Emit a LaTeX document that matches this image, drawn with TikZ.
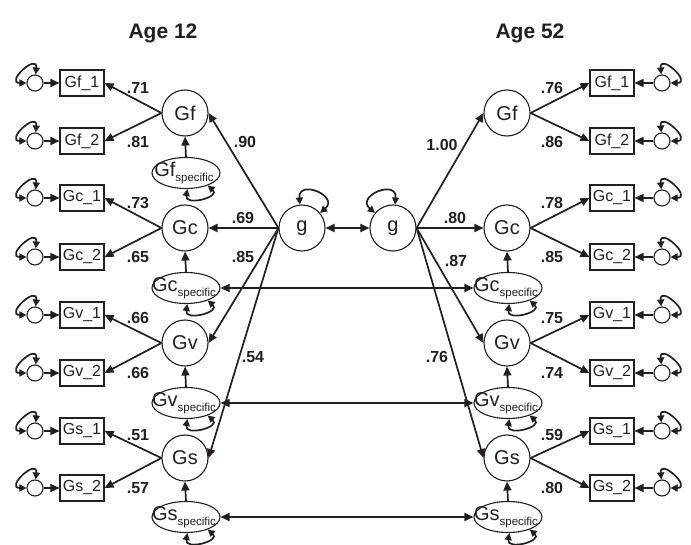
\documentclass[tikz,border=0pt]{standalone}
\usepackage{fontspec}
\setmainfont{Liberation Sans}
\usetikzlibrary{arrows.meta,shapes.geometric}
\definecolor{ink}{HTML}{231F20}
\begin{document}
\begin{tikzpicture}[x=1pt,y=-1pt,
  lat/.style={circle,draw=ink,line width=1.1pt,minimum size=46pt,inner sep=0pt,font=\fontsize{20}{20}\selectfont,text=ink},
  ind/.style={rectangle,draw=ink,line width=1.1pt,minimum width=44pt,minimum height=26pt,inner sep=0pt,font=\fontsize{16}{16}\selectfont,text=ink},
  res/.style={circle,draw=ink,line width=1.1pt,minimum size=16pt,inner sep=0pt},
  spec/.style={ellipse,draw=ink,line width=1.1pt,minimum width=68pt,minimum height=31pt,inner sep=0pt},
  spectxt/.style={font=\fontsize{20}{20}\selectfont,text=ink,inner sep=0pt},
  coef/.style={font=\bfseries\fontsize{16}{16}\selectfont,text=ink,inner sep=0pt},
  title/.style={font=\bfseries\fontsize{21}{21}\selectfont,text=ink,inner sep=0pt},
  arr/.style={line width=1.7pt,draw=ink,-{Triangle[length=9pt,width=8pt]}},
  darr/.style={line width=1.7pt,draw=ink,{Triangle[length=9pt,width=8pt]}-{Triangle[length=9pt,width=8pt]}},
  loopa/.style={line width=1.7pt,draw=ink,{Triangle[length=7pt,width=7pt]}-{Triangle[length=7pt,width=7pt]}},
]
\useasboundingbox (0,0) rectangle (691,545);
\fill[white] (0,0) rectangle (691,545);

% titles
\node[title] (t12) at (163,33) {Age 12};
\node[title] (t52) at (530,33) {Age 52};

% g factors
\node[lat] (gL) at (302,228) {g};
\node[lat] (gR) at (393,228) {g};
\draw[loopa] (gL.95) .. controls +(95:26pt) and +(40:26pt) .. (gL.40);
\draw[loopa] (gR.140) .. controls +(140:26pt) and +(85:26pt) .. (gR.85);
\draw[darr] (gL.east) -- (gR.west);

% ---------- left side ----------
\foreach \n/\y/\ya/\yb in {Gf/113/83/141, Gc/228/198/257, Gv/343/315/373, Gs/458/431/488}{
  \node[lat] (L\n) at (185,\y) {\n};
  \node[ind] (L\n1) at (82,\ya) {\n\_1};
  \node[ind] (L\n2) at (82,\yb) {\n\_2};
  \node[res] (LR\n1) at (35,\ya) {};
  \node[res] (LR\n2) at (35,\yb) {};
  \draw[arr] (L\n.west) -- (L\n1.east);
  \draw[arr] (L\n.west) -- (L\n2.east);
  \draw[arr] (LR\n1) -- (L\n1);
  \draw[arr] (LR\n2) -- (L\n2);
  \draw[loopa] (LR\n1.85) .. controls +(85:22pt) and +(180:22pt) .. (LR\n1.180);
  \draw[loopa] (LR\n2.85) .. controls +(85:22pt) and +(180:22pt) .. (LR\n2.180);
}
\foreach \n/\y in {Gf/173, Gc/288, Gv/403, Gs/517}{
  \node[spec] (LS\n) at (186,\y) {};
  \node[spectxt] (LST\n) at (184,\y) {\n\raisebox{-0.45ex}{\fontsize{11.5}{11.5}\selectfont specific}};
  \draw[arr] (LS\n.north) -- (L\n.south);
  \draw[loopa] (LS\n.275) .. controls +(260:18pt) and +(320:18pt) .. (LS\n.330);
}

% ---------- right side ----------
\foreach \n/\y/\ya/\yb in {Gf/113/83/141, Gc/228/198/257, Gv/343/315/373, Gs/458/431/488}{
  \node[lat] (R\n) at (507,\y) {\n};
  \node[ind] (R\n1) at (612,\ya) {\n\_1};
  \node[ind] (R\n2) at (612,\yb) {\n\_2};
  \node[res] (RR\n1) at (662,\ya) {};
  \node[res] (RR\n2) at (662,\yb) {};
  \draw[arr] (R\n.east) -- (R\n1.west);
  \draw[arr] (R\n.east) -- (R\n2.west);
  \draw[arr] (RR\n1) -- (R\n1);
  \draw[arr] (RR\n2) -- (R\n2);
  \draw[loopa] (RR\n1.95) .. controls +(95:22pt) and +(0:22pt) .. (RR\n1.0);
  \draw[loopa] (RR\n2.95) .. controls +(95:22pt) and +(0:22pt) .. (RR\n2.0);
}
\foreach \n/\y in {Gc/288, Gv/403, Gs/517}{
  \node[spec] (RS\n) at (508,\y) {};
  \node[spectxt] (RST\n) at (506,\y) {\n\raisebox{-0.45ex}{\fontsize{11.5}{11.5}\selectfont specific}};
  \draw[arr] (RS\n.north) -- (R\n.south);
  \draw[loopa] (RS\n.275) .. controls +(260:18pt) and +(320:18pt) .. (RS\n.330);
  \draw[darr] (LS\n.east) -- (RS\n.west);
}

% g loadings
\draw[arr] (gL.west) -- (LGf.east);
\draw[arr] (gL.west) -- (LGc.east);
\draw[arr] (gL.west) -- (LGv.east);
\draw[arr] (gL.west) -- (LGs.east);
\draw[arr] (gR.east) -- (RGf.west);
\draw[arr] (gR.east) -- (RGc.west);
\draw[arr] (gR.east) -- (RGv.west);
\draw[arr] (gR.east) -- (RGs.west);

% coefficients
\node[coef] (c1) at (245,142) {.90};
\node[coef] (c2) at (243,218) {.69};
\node[coef] (c3) at (243,257) {.85};
\node[coef] (c4) at (253,357) {.54};
\node[coef] (c5) at (442,145) {1.00};
\node[coef] (c6) at (455,218) {.80};
\node[coef] (c7) at (456,261) {.87};
\node[coef] (c8) at (437,357) {.76};

\node[coef] (l1) at (138,88) {.71};
\node[coef] (l2) at (138,142) {.81};
\node[coef] (l3) at (138,203) {.73};
\node[coef] (l4) at (138,257) {.65};
\node[coef] (l5) at (138,318) {.66};
\node[coef] (l6) at (138,373) {.66};
\node[coef] (l7) at (138,435) {.51};
\node[coef] (l8) at (138,488) {.57};

\node[coef] (r1) at (552,88) {.76};
\node[coef] (r2) at (552,142) {.86};
\node[coef] (r3) at (552,203) {.78};
\node[coef] (r4) at (552,257) {.85};
\node[coef] (r5) at (552,318) {.75};
\node[coef] (r6) at (552,373) {.74};
\node[coef] (r7) at (552,435) {.59};
\node[coef] (r8) at (552,488) {.80};
\end{tikzpicture}
\end{document}
